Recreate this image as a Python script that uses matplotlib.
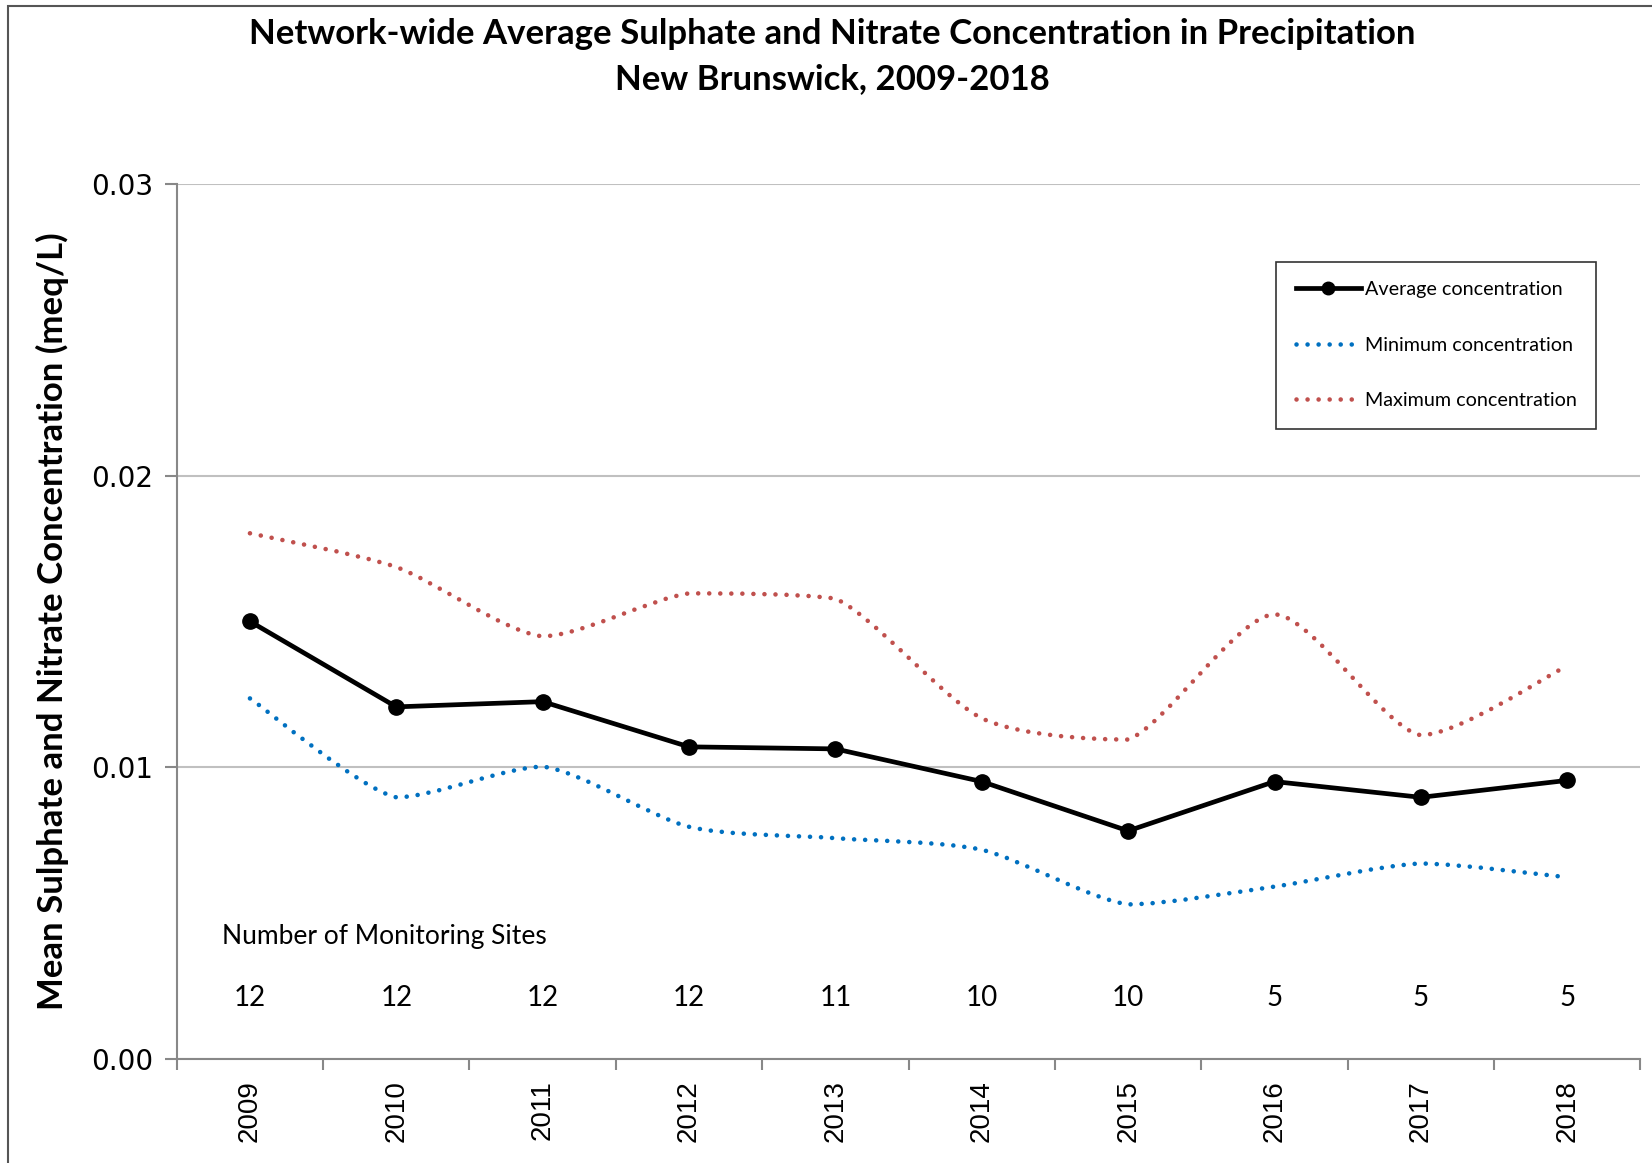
import numpy as np
import matplotlib
matplotlib.use("Agg")
from matplotlib import pyplot as plt
from matplotlib.path import Path
from matplotlib.patches import PathPatch, Rectangle
from matplotlib.lines import Line2D

years = ["2009", "2010", "2011", "2012", "2013", "2014", "2015", "2016", "2017", "2018"]
avg_conc = [0.0150, 0.01207, 0.01225, 0.0107, 0.01063, 0.00951, 0.00782, 0.00951, 0.00897, 0.00955]
min_conc = [0.01236, 0.00897, 0.01002, 0.00796, 0.00757, 0.00717, 0.0053, 0.00591, 0.0067, 0.00623]
max_conc = [0.01802, 0.01686, 0.01449, 0.01596, 0.01578, 0.01168, 0.01095, 0.01524, 0.0111, 0.01348]
num_sites = [12, 12, 12, 12, 11, 10, 10, 5, 5, 5]

blue = "#0070C0"
red = "#C0504D"
font = "Lato"


def smooth_path(xs, ys, k=8.0):
    # excel style smoothed line: bezier segments, control points kept
    # inside each segment's y range so the curve does not overshoot
    pts = np.column_stack([xs, ys]).astype(float)
    n = len(pts)
    verts = [pts[0]]
    codes = [Path.MOVETO]
    for i in range(n - 1):
        p0 = pts[i - 1] if i > 0 else pts[i]
        p1 = pts[i]
        p2 = pts[i + 1]
        p3 = pts[i + 2] if i + 2 < n else pts[i + 1]
        c1 = p1 + (p2 - p0) / k
        c2 = p2 - (p3 - p1) / k
        lo, hi = min(p1[1], p2[1]), max(p1[1], p2[1])
        c1[1] = np.clip(c1[1], lo, hi)
        c2[1] = np.clip(c2[1], lo, hi)
        verts += [c1, c2, p2]
        codes += [Path.CURVE4] * 3
    return Path(verts, codes)


fig = plt.figure(figsize=(16.52, 11.63), dpi=100)
ax = fig.add_axes([0.107, 0.0894, 0.886, 0.7526])

x = np.arange(len(years))

dot_lw = 3.3
dot_style = (0, (0.01, 2.4))
for series, col in [(min_conc, blue), (max_conc, red)]:
    patch = PathPatch(smooth_path(x, series), facecolor="none", edgecolor=col,
                      lw=dot_lw, linestyle=dot_style, capstyle="round", zorder=3)
    ax.add_patch(patch)

ax.plot(x, avg_conc, color="black", lw=3.4, marker="o", markersize=11, zorder=4)

ax.set_xlim(-0.5, len(years) - 0.5)
ax.set_ylim(0, 0.03)
ax.set_yticks([0, 0.01, 0.02, 0.03])
ax.set_yticklabels(["0.00", "0.01", "0.02", "0.03"], fontsize=20, family="DejaVu Sans")
ax.set_xticks(x)
ax.set_xticklabels(years, rotation=90, fontsize=20, family="Liberation Sans")
ax.set_xticks(np.arange(len(years) + 1) - 0.5, minor=True)
ax.tick_params(axis="x", which="major", length=0, pad=15)
ax.tick_params(axis="x", which="minor", length=8, color="#888888", width=1.5)
ax.tick_params(axis="y", length=9, color="#888888", width=1.5, pad=8)

ax.grid(axis="y", color="#c0c0c0", lw=1.5)
ax.set_axisbelow(True)
for s in ["top", "right"]:
    ax.spines[s].set_visible(False)
for s in ["left", "bottom"]:
    ax.spines[s].set_color("#888888")
    ax.spines[s].set_linewidth(1.5)

ax.set_ylabel("Mean Sulphate and Nitrate Concentration (meq/L)", fontsize=25,
              fontweight="bold", family=font, labelpad=16)

ax.text(-0.19, 0.0042, "Number of Monitoring Sites", fontsize=19, family=font,
        ha="left", va="center")
for i, n in enumerate(num_sites):
    ax.text(x[i], 0.0021, str(n), fontsize=20, family=font, ha="center", va="center")

fig.text(0.504, 0.971, "Network-wide Average Sulphate and Nitrate Concentration in Precipitation",
         fontsize=25, fontweight="bold", family=font, ha="center", va="center")
fig.text(0.504, 0.932, "New Brunswick, 2009-2018",
         fontsize=25, fontweight="bold", family=font, ha="center", va="center")

handles = [
    Line2D([], [], color="black", lw=3.4, marker="o", markersize=9),
    Line2D([], [], color=blue, lw=dot_lw, linestyle=dot_style, dash_capstyle="round"),
    Line2D([], [], color=red, lw=dot_lw, linestyle=dot_style, dash_capstyle="round"),
]
leg = ax.legend(handles, ["Average concentration", "Minimum concentration", "Maximum concentration"],
                loc="upper left", bbox_to_anchor=(0.751, 0.911), frameon=True, fancybox=False,
                prop={"family": font, "size": 14.2}, labelspacing=1.95, handlelength=3.3,
                handletextpad=0.2, borderpad=1.0, borderaxespad=0)
leg.get_frame().set_edgecolor("black")
leg.get_frame().set_linewidth(1.2)

# outer border of the chart area
fig.patches.append(Rectangle((0.005, -0.1), 1.2, 1.095, transform=fig.transFigure,
                             fill=False, edgecolor="#555555", lw=1.5))

fig.savefig("out.png", dpi=100)
